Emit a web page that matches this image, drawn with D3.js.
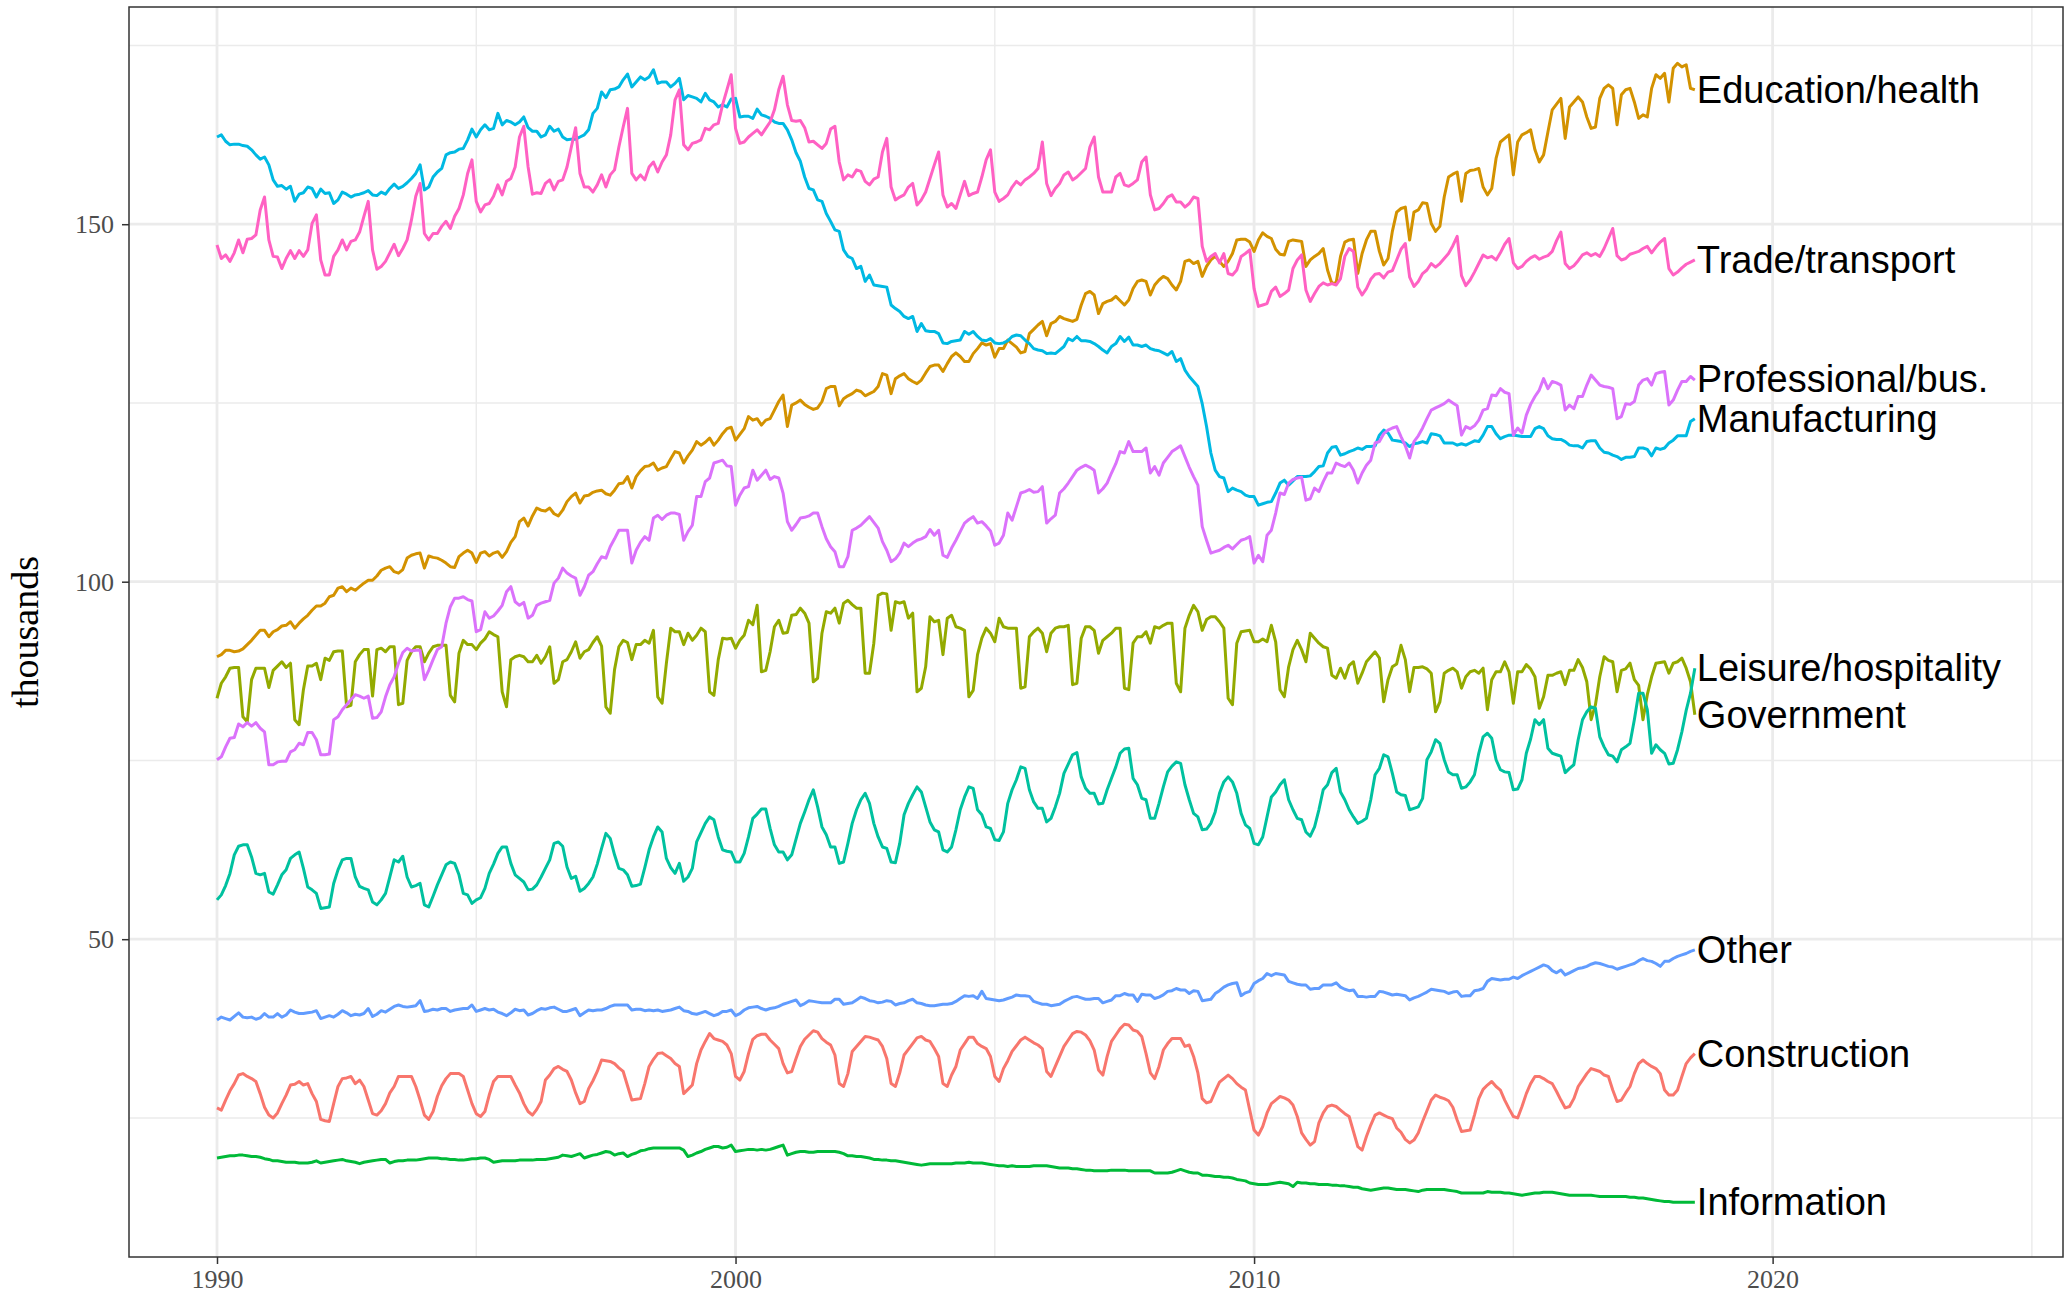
<!DOCTYPE html>
<html>
<head>
<meta charset="utf-8">
<script src="https://cdn.jsdelivr.net/npm/d3@7"></script>
<style>
  body { margin: 0; background: #fff; }
</style>
</head>
<body>
<div id="chart"></div>
<script>
// ---------- data: monthly employment, thousands, Jan 1990 .. Jul 2018 ----------
const startYear = 1990;

const construction = [
  26.4,26.1,27.5,28.8,29.8,31.0,31.2,30.8,30.5,30.1,28.4,26.5,
  25.4,25.0,25.7,27.0,28.2,29.6,29.7,30.1,29.6,29.8,28.4,27.3,
  24.8,24.6,24.5,27.0,29.4,30.5,30.6,30.8,29.8,30.3,29.4,27.5,
  25.6,25.4,26.0,27.0,28.5,29.4,30.8,30.8,30.8,30.8,29.4,27.5,
  25.4,24.8,25.9,28.0,29.5,30.5,31.2,31.2,31.2,30.8,28.9,27.0,
  25.6,25.2,25.9,28.2,30.1,30.8,30.8,30.8,30.8,29.6,28.5,27.0,
  25.9,25.4,26.2,27.3,30.3,31.0,31.9,32.2,31.8,31.5,30.3,28.5,
  27.0,27.3,29.1,30.2,31.5,33.1,33.0,32.9,32.6,32.0,31.5,29.5,
  27.5,27.6,27.7,29.8,32.2,33.2,34.0,34.1,33.7,33.3,32.6,32.2,
  28.4,29.0,29.6,32.6,34.5,35.7,36.8,36.1,35.9,35.7,35.2,34.0,
  30.8,30.3,31.5,34.0,36.0,36.5,36.7,36.7,35.9,35.3,34.7,32.6,
  31.3,31.5,33.3,35.0,36.0,36.6,37.2,37.0,36.1,35.6,35.2,33.8,
  29.8,29.4,31.2,34.3,35.0,35.7,36.4,36.3,36.1,35.9,35.0,33.3,
  29.8,29.4,31.3,33.8,34.6,35.4,36.2,36.4,35.9,35.7,34.7,33.6,
  29.8,29.4,31.0,32.2,34.5,35.4,36.3,36.3,35.4,35.0,34.7,33.6,
  30.8,30.1,31.9,33.0,34.3,35.1,35.9,36.3,35.9,35.5,35.2,34.7,
  31.5,30.8,32.2,33.6,35.0,35.9,36.8,37.1,37.0,36.6,35.8,34.5,
  31.7,31.0,33.6,35.7,36.6,37.5,38.1,38.0,37.3,37.1,36.4,34.0,
  31.3,30.5,32.2,34.5,35.4,36.1,36.1,36.1,35.0,35.2,33.6,31.3,
  27.7,27.1,27.3,28.7,30.0,30.5,31.0,30.5,29.8,29.3,28.9,26.1,
  23.3,22.6,23.8,25.7,27.0,27.5,28.0,27.8,27.5,26.8,25.2,22.9,
  22.0,21.2,21.7,24.3,25.7,26.6,26.8,26.6,26.1,25.6,25.2,23.1,
  21.0,20.5,22.4,24.0,25.4,25.7,25.4,25.1,24.9,23.6,23.0,22.0,
  21.5,21.9,22.9,24.5,26.0,27.5,28.2,27.9,27.7,27.4,26.5,24.7,
  23.1,23.2,23.3,25.4,27.7,29.0,29.6,30.1,29.4,28.9,27.5,26.3,
  25.2,25.0,26.6,28.4,29.8,30.8,30.8,30.5,30.1,29.8,28.7,27.5,
  26.4,26.6,27.7,29.4,30.3,31.2,31.9,31.7,31.5,31.0,30.8,28.9,
  27.3,27.5,28.5,29.4,31.2,32.6,33.1,32.6,32.2,31.9,31.2,28.9,
  28.2,28.2,28.9,30.8,32.6,33.4,34.0
];

const educationHealth = [
  89.5,89.8,90.4,90.4,90.2,90.3,90.6,91.2,91.8,92.5,93.2,93.2,
  92.3,93.0,93.3,93.8,93.9,94.4,93.5,94.2,94.8,95.3,96.0,96.6,
  96.6,97.0,97.9,98.1,99.1,99.3,98.6,99.1,98.8,99.3,99.8,100.2,
  100.2,100.8,101.6,101.9,102.1,101.4,101.2,101.7,103.3,103.7,103.9,104.0,
  101.9,103.6,103.4,103.3,103.0,102.6,102.1,102.0,103.5,104.0,104.4,104.0,
  102.7,104.0,104.2,103.6,104.0,104.2,103.4,104.2,105.5,106.3,108.4,108.9,
  107.8,109.2,110.3,110.0,109.9,110.3,109.5,109.2,110.0,111.2,111.9,112.4,
  111.0,112.0,112.1,112.5,112.7,112.8,112.3,112.1,112.8,113.7,113.8,114.7,
  113.1,114.7,115.5,116.1,116.2,116.6,115.6,115.9,116.1,117.2,118.2,118.0,
  116.6,117.6,118.4,119.6,119.1,119.5,120.1,119.1,119.8,120.7,121.4,121.6,
  119.8,120.6,121.4,123.1,122.6,122.8,121.9,122.6,122.8,124.0,125.2,126.1,
  121.7,124.7,125.0,125.4,124.8,124.4,124.1,124.3,125.2,127.0,127.3,127.3,
  124.6,125.6,126.0,126.3,126.8,126.6,126.0,126.3,126.6,127.3,129.1,128.9,
  126.3,128.4,128.8,129.1,128.4,128.0,127.7,128.2,129.2,130.1,130.3,130.3,
  129.4,130.5,131.5,132.0,131.5,130.8,130.8,131.9,132.6,133.4,133.1,133.3,
  131.4,132.6,132.6,133.8,133.3,132.8,132.0,132.2,134.7,135.3,135.9,136.4,
  134.4,136.1,136.4,137.1,136.8,136.6,136.4,136.7,138.7,140.3,140.6,140.1,
  137.5,138.9,139.2,139.4,139.9,139.3,138.7,139.4,141.0,142.0,142.2,142.0,
  140.1,141.5,142.2,142.7,142.4,141.5,140.8,142.0,144.8,145.0,144.5,144.8,
  142.7,144.1,145.0,145.5,144.8,144.1,144.8,145.9,147.8,147.9,147.9,147.5,
  146.2,147.8,148.8,148.3,148.0,146.5,145.8,145.7,147.6,147.8,147.7,147.6,
  144.1,145.0,145.5,145.9,146.6,143.6,141.7,141.8,145.5,147.5,147.8,147.9,
  143.1,145.9,147.8,149.0,149.0,146.2,144.3,145.2,149.0,151.7,152.2,152.4,
  147.8,151.7,152.0,153.0,152.9,150.1,149.0,149.7,153.8,156.6,157.0,157.3,
  153.2,157.1,157.5,157.6,157.8,155.2,154.1,155.0,159.2,161.5,162.0,162.5,
  156.9,161.5,162.5,162.8,163.2,160.4,158.7,159.7,162.9,166.0,166.8,167.6,
  162.0,166.4,167.1,167.8,167.1,165.0,163.4,163.6,167.6,169.0,169.5,169.0,
  163.9,168.1,168.8,169.0,167.1,164.8,165.3,165.0,169.0,170.9,170.4,171.1,
  167.1,171.8,172.5,172.0,172.3,169.0,168.8
];

const government = [
  83.7,85.8,86.7,87.9,88.0,88.0,81.1,80.4,86.3,87.9,87.9,87.9,
  85.2,87.6,88.2,88.8,88.0,88.6,80.7,80.0,84.9,88.2,88.2,88.6,
  86.3,89.3,89.0,90.2,90.3,90.3,82.5,82.7,88.8,89.8,90.5,90.5,
  84.0,90.5,90.7,90.2,90.9,90.9,82.8,83.0,89.0,90.2,90.9,90.9,
  88.8,90.0,90.9,91.1,91.1,91.1,84.1,83.2,90.0,91.8,91.2,91.2,
  90.5,91.4,92.0,93.0,92.6,92.3,84.6,82.5,89.1,89.5,89.7,89.5,
  88.8,88.8,89.7,88.6,89.5,90.9,85.8,86.3,88.8,89.1,90.2,91.6,
  89.3,90.2,90.5,91.5,92.3,91.0,82.5,81.6,87.7,90.9,91.8,91.5,
  89.1,91.2,91.2,91.8,91.4,93.2,83.9,83.0,88.6,93.5,93.0,93.0,
  91.2,92.8,91.8,92.5,93.5,93.0,84.6,84.1,89.1,92.1,92.0,92.1,
  90.7,91.8,92.5,94.6,94.0,96.7,87.4,87.6,90.2,93.7,94.6,92.8,
  92.9,95.3,95.4,96.3,95.6,94.2,86.0,86.5,92.8,95.8,95.6,96.3,
  94.2,97.0,97.4,96.8,96.3,96.3,87.2,87.2,91.4,98.1,98.4,98.3,
  93.2,97.2,97.0,97.2,94.9,95.6,84.6,85.1,88.1,95.1,94.4,94.6,
  89.8,94.9,95.3,93.7,93.5,93.2,83.9,84.8,89.8,92.1,93.5,92.8,
  91.6,94.9,93.7,93.5,93.5,93.5,85.1,85.3,92.3,93.0,93.5,92.8,
  90.2,92.8,93.5,93.7,93.7,93.9,85.6,85.8,92.1,93.7,93.7,93.2,
  90.0,91.8,92.3,92.8,93.5,93.5,85.1,84.9,91.4,92.3,92.3,93.0,
  91.4,93.7,93.5,93.9,94.2,94.2,85.8,84.6,93.5,95.3,96.7,95.8,
  93.2,94.7,95.1,95.1,94.4,93.5,83.7,82.8,91.4,93.0,93.1,93.2,
  91.6,91.6,92.0,91.6,93.9,91.6,84.9,83.9,88.1,90.5,91.8,90.5,
  88.8,92.8,92.1,91.4,90.9,90.7,86.9,86.5,87.9,86.5,88.3,88.8,
  85.8,87.2,88.8,89.5,90.2,89.3,83.2,86.3,88.1,88.5,91.1,89.1,
  84.6,88.0,88.0,88.1,87.8,87.2,81.8,83.2,87.2,87.6,87.9,87.4,
  85.1,86.7,87.4,87.6,87.2,87.9,82.1,86.3,87.4,87.4,88.8,87.4,
  83.0,87.4,87.4,88.4,87.8,86.7,82.3,83.9,86.9,86.9,87.2,87.4,
  85.6,87.6,87.6,89.1,88.0,86.0,80.7,82.8,86.7,89.5,89.0,88.8,
  84.6,87.6,87.8,88.6,86.3,85.5,80.7,84.2,86.7,88.6,88.7,88.8,
  87.2,88.6,88.8,89.3,87.9,86.0,81.4
];

const information = [
  19.4,19.5,19.6,19.7,19.7,19.8,19.8,19.7,19.6,19.6,19.5,19.3,
  19.2,19.0,19.0,18.9,18.8,18.8,18.8,18.7,18.7,18.7,18.8,19.0,
  18.7,18.8,18.9,19.0,19.1,19.2,19.0,18.9,18.8,18.6,18.8,18.9,
  19.0,19.1,19.2,19.2,18.7,18.9,19.0,19.0,19.1,19.1,19.1,19.2,
  19.3,19.4,19.4,19.4,19.3,19.3,19.2,19.2,19.1,19.1,19.2,19.3,
  19.3,19.4,19.4,19.2,18.8,18.9,19.0,19.0,19.0,19.0,19.1,19.1,
  19.1,19.1,19.2,19.2,19.2,19.3,19.4,19.5,19.8,19.7,19.6,19.8,
  20.0,19.4,19.6,19.8,19.9,20.1,20.3,20.2,19.8,20.0,20.1,19.6,
  19.9,20.1,20.4,20.5,20.7,20.8,20.8,20.8,20.8,20.8,20.8,20.8,
  20.5,19.6,19.8,20.1,20.3,20.6,20.8,21.0,21.0,20.8,20.9,21.2,
  20.3,20.4,20.5,20.6,20.6,20.5,20.6,20.5,20.6,20.8,21.0,21.2,
  19.8,20.0,20.2,20.3,20.3,20.2,20.2,20.3,20.3,20.3,20.3,20.3,
  20.2,20.0,19.7,19.7,19.6,19.6,19.5,19.4,19.2,19.2,19.1,19.1,
  19.0,19.0,18.9,18.8,18.7,18.6,18.5,18.4,18.5,18.6,18.6,18.6,
  18.6,18.6,18.6,18.7,18.7,18.7,18.8,18.7,18.7,18.7,18.6,18.5,
  18.4,18.3,18.3,18.2,18.3,18.2,18.2,18.2,18.2,18.3,18.3,18.3,
  18.3,18.2,18.1,18.0,18.0,18.0,17.9,17.9,17.8,17.7,17.7,17.6,
  17.6,17.6,17.6,17.7,17.7,17.7,17.7,17.6,17.6,17.6,17.6,17.6,
  17.6,17.3,17.3,17.3,17.3,17.4,17.6,17.8,17.6,17.4,17.3,17.3,
  17.0,17.0,16.9,16.8,16.8,16.7,16.7,16.6,16.4,16.3,16.2,15.9,
  15.8,15.7,15.7,15.7,15.8,15.9,16.0,15.9,15.8,15.4,16.0,15.9,
  15.9,15.8,15.8,15.7,15.7,15.7,15.6,15.6,15.5,15.5,15.4,15.3,
  15.3,15.1,15.0,14.9,15.0,15.1,15.2,15.2,15.1,15.0,15.0,15.0,
  14.9,14.8,14.7,14.9,15.0,15.0,15.0,15.0,15.0,14.9,14.8,14.7,
  14.5,14.5,14.5,14.5,14.5,14.5,14.7,14.6,14.6,14.6,14.5,14.5,
  14.4,14.3,14.2,14.3,14.4,14.5,14.5,14.6,14.6,14.6,14.5,14.4,
  14.3,14.2,14.2,14.2,14.2,14.2,14.2,14.1,14.0,14.0,14.0,14.0,
  14.0,14.0,14.0,13.9,13.9,13.8,13.8,13.7,13.6,13.5,13.4,13.3,
  13.3,13.2,13.2,13.2,13.2,13.2,13.2
];

const leisureHospitality = [
  55.5,56.2,57.5,59.2,61.8,63.0,63.2,63.2,61.5,59.2,59.0,59.2,
  56.6,56.3,57.6,59.0,59.7,61.3,61.8,62.2,59.9,57.3,56.9,56.4,
  54.3,54.4,54.5,57.8,59.7,61.1,61.3,61.3,58.7,57.4,57.1,56.9,
  55.2,54.8,55.5,56.4,58.7,61.1,60.8,61.6,58.7,57.3,57.5,57.8,
  54.8,54.5,56.0,57.6,59.0,60.4,60.8,60.6,59.0,56.4,56.2,55.0,
  55.5,55.8,57.1,59.2,60.5,62.0,62.9,62.9,60.6,59.0,58.5,58.0,
  56.9,57.0,57.6,58.7,59.9,61.1,63.4,63.6,63.0,60.1,58.5,58.8,
  56.7,57.1,57.8,58.7,60.5,62.7,64.8,64.1,61.8,59.9,59.7,59.0,
  57.4,57.5,57.7,60.0,62.5,64.3,65.7,65.0,61.3,60.0,59.2,60.6,
  58.1,58.7,59.9,63.6,64.9,66.2,67.1,66.7,64.3,62.5,62.3,62.2,
  60.8,60.8,62.0,64.3,66.9,67.5,68.2,68.2,65.5,63.2,62.2,62.2,
  61.1,61.8,64.0,66.2,67.8,69.5,70.9,68.5,65.7,64.6,62.9,62.9,
  60.6,60.8,63.4,66.2,68.1,69.5,70.4,69.0,66.2,64.3,62.9,62.7,
  60.8,60.7,63.4,67.4,69.0,70.2,71.3,70.6,68.5,66.4,65.3,65.0,
  62.5,62.2,62.9,65.3,68.1,69.9,71.3,71.1,68.1,67.4,65.7,65.5,
  63.9,63.8,65.0,69.0,70.9,72.3,74.1,73.9,70.9,69.2,68.3,68.3,
  66.4,66.9,68.5,70.4,73.2,74.5,75.8,76.1,72.7,71.1,70.4,70.4,
  68.9,69.0,70.9,72.5,74.1,76.0,76.6,76.7,72.5,71.6,69.7,69.5,
  66.9,66.9,69.0,71.3,73.4,74.2,74.8,74.6,71.6,69.5,67.6,67.1,
  65.3,65.4,66.2,67.8,70.4,72.0,72.7,72.0,70.4,67.6,66.0,65.5,
  63.4,63.2,64.3,67.1,69.9,70.6,71.6,72.3,69.5,68.1,66.9,66.7,
  65.0,64.4,65.7,68.1,70.9,71.6,73.3,73.9,70.6,69.5,68.1,67.1,
  66.2,66.5,66.9,69.5,73.0,73.9,75.8,75.5,73.2,70.6,70.2,70.1,
  68.1,68.3,68.5,69.7,75.1,76.2,77.9,77.4,75.1,73.4,73.0,73.0,
  71.1,71.3,72.0,73.0,76.0,78.3,78.8,78.1,75.1,73.7,73.4,73.3,
  70.9,71.0,72.3,76.0,78.0,80.7,80.0,80.7,76.7,76.0,75.8,75.6,
  73.3,73.9,74.4,77.9,80.7,81.8,82.5,82.3,78.3,76.9,75.8,75.6,
  74.8,76.5,76.9,77.4,80.7,84.4,84.4,82.1,76.0,77.2,76.5,76.0,
  74.5,74.6,76.5,79.0,82.0,84.4,87.9
];

const manufacturing = [
  162.2,162.5,161.6,161.1,161.2,161.2,161.0,160.9,160.4,159.7,159.1,159.4,
  158.3,156.2,155.3,155.4,154.9,155.3,153.2,154.2,154.4,155.2,155.0,153.8,
  154.9,154.3,154.4,152.9,153.4,154.5,154.2,153.8,154.1,154.2,154.4,154.7,
  154.1,154.0,154.5,154.2,155.0,155.6,155.0,155.3,155.8,156.4,157.1,158.3,
  154.8,155.2,156.6,157.3,157.8,159.7,160.0,160.1,160.5,160.6,161.8,163.3,
  162.2,163.2,163.9,163.2,163.4,165.5,163.9,164.5,164.3,163.9,164.3,165.0,
  163.5,163.0,163.0,162.2,162.5,163.7,163.0,163.3,162.2,161.8,161.9,161.9,
  162.2,162.5,163.2,165.5,166.2,168.5,167.7,168.8,168.9,169.2,170.2,171.0,
  169.2,169.9,170.6,170.2,170.6,171.6,169.7,169.9,169.9,169.2,169.7,170.4,
  167.4,168.0,167.8,167.6,167.1,168.3,167.4,167.1,166.4,166.7,166.4,167.5,
  167.6,165.0,165.1,165.1,164.8,166.1,165.3,165.1,164.8,164.3,164.1,164.1,
  163.2,161.8,160.0,158.8,156.6,155.0,154.8,153.4,153.2,151.5,150.4,149.2,
  149.0,146.4,145.5,145.2,143.8,144.1,142.0,142.9,141.5,141.4,141.3,141.2,
  138.7,138.2,137.8,137.1,136.8,137.1,135.0,136.1,135.1,135.0,135.0,134.7,
  133.4,133.3,133.6,133.7,133.8,135.0,134.6,135.0,134.3,133.8,133.7,134.0,
  133.4,133.3,133.4,133.7,134.3,134.5,134.4,133.8,133.3,132.6,132.4,132.3,
  131.9,132.0,131.9,132.4,132.9,134.0,133.7,134.3,133.7,133.7,133.6,133.3,
  132.9,132.4,132.0,132.9,133.3,134.3,133.6,134.2,133.1,133.1,132.9,133.1,
  132.6,132.4,132.3,132.0,131.7,132.2,130.8,131.2,129.6,128.7,128.0,127.3,
  124.9,121.7,118.0,115.6,114.7,114.5,112.6,113.1,112.8,112.6,112.1,111.9,
  111.9,110.7,110.9,111.1,111.2,112.4,113.8,114.2,113.5,114.1,114.7,114.7,
  114.7,114.8,115.4,116.1,116.2,118.0,118.8,118.9,117.7,117.9,118.2,118.4,
  118.7,118.5,118.9,118.9,119.0,120.5,121.2,120.8,119.8,119.7,119.6,119.4,
  118.9,119.3,119.4,119.6,119.4,120.7,120.6,120.4,119.4,119.4,119.4,119.1,
  119.3,119.1,119.4,119.7,119.6,120.5,121.7,121.7,120.7,120.0,120.3,120.5,
  120.5,120.4,120.3,120.3,120.3,121.4,121.7,121.4,120.4,120.0,119.9,119.9,
  119.6,119.1,119.0,119.0,118.7,119.6,119.7,119.7,118.7,118.1,118.0,117.7,
  117.5,117.1,117.4,117.4,117.5,118.7,118.7,118.5,117.6,118.7,118.5,118.7,
  119.4,119.8,120.4,120.4,120.4,122.4,122.8
];

const other = [
  38.7,39.1,38.9,38.7,39.2,39.7,39.1,39.0,39.1,38.8,39.0,39.6,
  39.1,39.1,39.6,39.1,39.4,40.1,39.8,39.6,39.6,39.7,39.8,40.0,
  38.9,39.1,39.3,39.1,39.5,40.0,39.7,39.3,39.5,39.4,39.6,40.3,
  39.2,39.5,40.0,39.8,40.2,40.6,40.8,40.6,40.5,40.6,40.7,41.4,
  39.9,40.0,40.2,40.1,40.3,40.3,39.9,40.1,40.2,40.3,40.3,40.8,
  39.9,40.1,40.3,40.1,40.2,39.8,39.6,39.3,39.7,40.2,40.0,40.1,
  39.4,39.6,40.0,40.3,40.2,40.4,40.5,40.2,39.9,39.9,40.1,40.3,
  39.3,39.7,40.1,40.0,40.1,40.1,40.3,40.6,40.8,40.8,40.8,40.8,
  40.1,40.2,40.2,40.0,40.1,40.0,40.1,39.9,40.0,40.1,40.3,40.5,
  40.0,39.9,39.6,39.5,39.7,39.9,39.6,39.3,39.5,39.9,39.9,40.1,
  39.3,39.6,40.1,40.4,40.5,40.6,40.3,40.1,40.3,40.4,40.6,40.9,
  41.1,41.3,41.5,40.7,41.0,41.4,41.3,41.2,41.1,41.1,41.1,41.6,
  41.6,40.9,41.0,41.1,41.5,41.9,41.7,41.4,41.3,41.1,41.2,41.4,
  41.3,40.8,41.0,41.1,41.4,41.6,41.1,41.0,40.8,40.7,40.7,40.8,
  40.9,40.9,41.0,41.3,41.7,42.1,42.0,42.1,41.7,42.7,41.7,41.6,
  41.5,41.4,41.5,41.7,41.9,42.2,42.1,42.1,42.0,41.3,41.1,40.9,
  40.9,40.7,40.8,40.9,41.3,41.6,41.9,42.0,41.8,41.6,41.6,41.7,
  41.7,41.1,41.3,41.5,42.1,42.1,42.4,42.2,42.2,41.3,42.3,42.2,
  42.2,41.7,41.9,42.2,42.7,42.8,43.1,42.9,42.9,42.4,42.8,42.7,
  41.4,41.5,41.6,42.4,42.8,43.3,43.6,43.8,43.9,42.1,42.5,42.7,
  43.8,44.2,44.5,45.2,44.9,45.2,45.1,45.0,44.1,43.9,43.7,43.6,
  43.6,43.0,43.1,43.1,43.6,43.6,43.6,43.9,43.3,43.0,42.8,42.9,
  42.0,42.0,41.9,42.0,42.0,42.7,42.6,42.4,42.2,42.3,42.2,42.1,
  41.5,41.8,42.0,42.3,42.6,43.0,42.9,42.8,42.7,42.4,42.6,42.7,
  42.0,42.1,42.1,42.8,42.9,43.1,44.1,44.5,44.4,44.3,44.4,44.4,
  44.7,44.5,44.9,45.2,45.5,45.8,46.1,46.4,46.2,45.6,45.3,45.7,
  45.0,45.3,45.6,45.9,46.0,46.2,46.5,46.7,46.6,46.4,46.2,46.1,
  45.8,46.0,46.2,46.4,46.6,47.0,47.3,47.0,46.9,46.6,46.2,46.9,
  46.9,47.3,47.6,47.8,48.0,48.3,48.5
];

const professionalBus = [
  75.1,75.5,76.9,78.1,78.2,80.1,79.7,80.3,79.8,80.3,79.5,79.0,
  74.4,74.4,74.8,74.9,74.9,76.2,76.5,77.4,77.2,78.9,78.9,77.9,
  75.8,75.8,75.9,80.7,81.1,82.1,82.8,83.5,84.2,84.0,83.7,84.0,
  80.9,81.0,81.8,83.9,85.6,86.7,88.6,90.1,90.7,90.3,90.4,90.4,
  86.3,87.6,89.1,90.5,90.9,94.2,96.5,97.7,97.7,97.9,97.5,97.3,
  93.0,93.3,95.8,94.9,95.2,95.9,96.7,98.6,99.3,97.2,96.7,97.1,
  94.9,95.3,96.7,97.0,97.2,97.4,99.8,100.5,101.9,101.2,100.8,100.5,
  98.1,99.3,100.9,101.4,102.5,103.5,103.3,104.9,106.0,107.2,107.2,107.2,
  102.6,104.4,105.5,106.3,105.8,108.9,109.3,108.7,109.3,109.6,109.6,109.4,
  105.8,107.0,107.9,111.9,111.9,114.0,114.5,116.6,116.8,117.0,116.2,116.1,
  110.7,112.1,113.1,113.3,115.6,114.2,114.9,115.6,114.3,114.7,114.5,112.4,
  108.4,107.2,108.0,108.9,109.0,109.2,109.6,109.6,107.7,106.0,104.9,104.2,
  102.1,102.1,103.5,107.2,107.5,107.9,108.5,109.1,108.3,107.5,105.6,104.4,
  102.8,103.2,104.0,105.4,104.9,105.4,105.8,106.0,106.3,107.3,106.5,107.2,
  103.7,103.4,104.7,105.8,107.0,108.2,108.7,109.1,108.2,108.4,107.8,107.1,
  105.1,105.4,106.5,109.6,108.6,110.5,112.4,112.6,112.9,112.5,112.6,113.3,
  108.2,108.8,109.3,112.4,113.0,113.8,114.7,115.6,116.0,116.3,116.0,115.6,
  112.4,113.0,113.8,115.2,116.5,118.2,118.0,119.6,118.2,118.2,118.2,118.7,
  115.2,116.1,114.9,116.6,117.4,118.2,118.6,119.0,117.5,116.0,114.7,113.5,
  107.7,105.8,104.0,104.2,104.4,104.8,105.1,104.6,105.2,105.8,106.0,106.3,
  102.6,103.7,102.8,106.5,107.2,109.6,112.4,112.2,113.8,114.3,114.5,114.6,
  111.4,111.6,113.1,112.6,114.0,115.2,115.2,116.6,116.3,116.1,116.6,115.6,
  113.8,115.2,116.3,117.0,119.4,119.6,120.7,121.2,121.5,121.7,120.3,119.0,
  117.3,119.6,120.4,121.5,122.8,124.0,124.3,124.6,124.9,125.4,125.0,124.6,
  120.5,121.7,121.4,121.8,122.6,124.0,124.2,126.1,126.0,127.0,126.5,126.3,
  120.5,121.5,120.8,123.3,124.8,125.9,126.8,128.4,127.0,128.0,127.8,127.5,
  124.0,124.7,124.2,125.9,125.9,127.5,128.9,128.2,127.5,127.3,127.2,127.0,
  122.8,123.1,124.9,124.8,125.2,127.5,128.2,128.4,127.5,129.1,129.3,129.4,
  124.7,125.4,126.8,128.0,128.0,128.7,128.2
];

const tradeTransport = [
  147.1,145.2,145.7,144.8,146.0,147.8,146.0,147.9,148.0,148.5,152.0,153.8,
  147.8,145.5,145.4,143.8,145.2,146.3,145.2,146.3,145.5,146.4,150.1,151.3,
  145.0,142.9,142.9,145.5,146.4,147.8,146.4,147.6,147.8,148.9,151.1,153.2,
  146.4,143.7,144.1,144.8,146.0,147.2,145.6,146.6,147.8,150.6,153.9,155.7,
  148.7,147.8,148.7,148.7,149.7,150.4,149.4,151.1,152.2,154.1,157.1,159.0,
  153.2,151.7,152.7,152.9,153.9,155.5,154.1,156.0,156.4,158.0,162.2,163.7,
  158.0,154.2,154.4,154.3,155.7,156.2,154.8,156.0,156.2,158.0,160.8,163.5,
  157.1,155.2,155.2,154.5,155.5,156.9,155.2,156.9,157.6,160.8,163.6,166.2,
  157.1,156.2,156.9,156.2,158.0,158.7,157.3,158.7,159.7,162.5,167.4,168.8,
  161.1,160.4,161.3,161.5,161.8,163.4,163.2,163.9,164.1,166.7,168.8,170.9,
  163.4,161.3,161.5,162.2,162.7,163.2,162.5,163.4,164.3,166.0,168.8,170.7,
  166.7,164.5,164.4,164.5,163.5,161.5,161.6,161.1,160.6,161.3,163.3,163.7,
  158.7,156.2,156.9,156.6,157.6,157.4,156.0,155.5,156.3,156.6,160.1,162.0,
  155.2,153.4,153.8,154.1,155.2,155.7,152.7,153.4,154.5,156.4,158.3,160.1,
  154.1,152.4,152.9,152.2,154.1,156.0,154.0,154.3,154.5,156.6,159.0,160.4,
  154.5,153.2,153.6,154.1,155.2,156.0,155.5,156.2,156.6,157.1,157.8,161.5,
  155.7,154.0,155.0,155.7,156.9,157.3,156.2,156.6,157.2,157.8,160.8,162.2,
  156.6,154.5,154.5,154.5,156.6,157.1,155.5,155.3,155.7,156.2,158.7,159.4,
  154.1,152.0,152.2,152.9,153.8,154.1,153.1,153.1,152.4,152.9,153.8,153.6,
  146.9,144.8,145.5,145.9,144.6,145.9,143.1,142.9,143.6,145.5,145.9,146.4,
  141.0,138.5,138.7,138.9,140.6,141.2,139.9,140.3,140.8,143.8,145.0,145.7,
  140.8,139.2,140.3,141.3,141.8,141.5,141.7,141.5,142.4,145.5,146.6,146.2,
  141.2,140.1,141.0,142.3,143.0,143.1,142.5,143.3,143.5,145.0,146.5,147.3,
  142.6,141.3,142.0,143.1,143.6,144.5,144.0,144.5,145.2,145.9,147.0,148.3,
  142.8,141.4,142.2,143.3,144.5,145.7,145.3,145.5,145.0,146.0,147.2,148.0,
  144.6,143.8,144.1,144.8,145.3,145.6,145.1,145.4,145.6,146.2,147.7,148.9,
  144.5,143.8,144.2,144.9,145.7,146.0,145.6,145.9,145.5,146.6,148.0,149.4,
  145.6,145.0,145.2,145.8,146.0,146.2,146.6,146.9,146.0,146.8,147.5,148.0,
  143.8,142.9,143.3,143.9,144.4,144.7,145.0
];

const seriesNames = ["Construction", "Education/health", "Government", "Information",
  "Leisure/hospitality", "Manufacturing", "Other", "Professional/bus.", "Trade/transport"];
const seriesValues = [construction, educationHealth, government, information,
  leisureHospitality, manufacturing, other, professionalBus, tradeTransport];
const seriesColors = ["#F8766D", "#D39200", "#93AA00", "#00BA38",
  "#00C19F", "#00B9E3", "#619CFF", "#DB72FB", "#FF61C3"];

const xMajor = [1990, 2000, 2010, 2020];
const xMinor = [1995, 2005, 2015, 2025];
const yMajor = [50, 100, 150];
const yMinor = [25, 75, 125, 175];

// --------------------------- layout ---------------------------
const width = 2064;
const height = 1307;
const panel = { left: 129, right: 2063, top: 7, bottom: 1257 };

const x = d3.scaleLinear().domain([1988.303, 2025.6]).range([panel.left, panel.right]);
const y = d3.scaleLinear().domain([5.55, 180.38]).range([panel.bottom, panel.top]);

const svg = d3.select("#chart")
  .append("svg")
  .attr("width", width)
  .attr("height", height)
  .attr("viewBox", `0 0 ${width} ${height}`);

svg.append("rect").attr("width", width).attr("height", height).attr("fill", "#fff");

const clip = svg.append("defs").append("clipPath").attr("id", "panel-clip");
clip.append("rect")
  .attr("x", panel.left).attr("y", panel.top)
  .attr("width", panel.right - panel.left).attr("height", panel.bottom - panel.top);

// --------------------------- grid ---------------------------
const grid = svg.append("g").attr("clip-path", "url(#panel-clip)");

grid.selectAll("line.xminor").data(xMinor).join("line")
  .attr("class", "xminor")
  .attr("x1", d => x(d)).attr("x2", d => x(d))
  .attr("y1", panel.top).attr("y2", panel.bottom)
  .attr("stroke", "#EBEBEB").attr("stroke-width", 1.4);

grid.selectAll("line.yminor").data(yMinor).join("line")
  .attr("class", "yminor")
  .attr("x1", panel.left).attr("x2", panel.right)
  .attr("y1", d => y(d)).attr("y2", d => y(d))
  .attr("stroke", "#EBEBEB").attr("stroke-width", 1.4);

grid.selectAll("line.xmajor").data(xMajor).join("line")
  .attr("class", "xmajor")
  .attr("x1", d => x(d)).attr("x2", d => x(d))
  .attr("y1", panel.top).attr("y2", panel.bottom)
  .attr("stroke", "#EBEBEB").attr("stroke-width", 2.8);

grid.selectAll("line.ymajor").data(yMajor).join("line")
  .attr("class", "ymajor")
  .attr("x1", panel.left).attr("x2", panel.right)
  .attr("y1", d => y(d)).attr("y2", d => y(d))
  .attr("stroke", "#EBEBEB").attr("stroke-width", 2.8);

// --------------------------- lines ---------------------------
const line = d3.line()
  .x((d, i) => x(startYear + i / 12))
  .y(d => y(d));

const lines = svg.append("g").attr("clip-path", "url(#panel-clip)");

lines.selectAll("path")
  .data(seriesValues)
  .join("path")
  .attr("d", d => line(d))
  .attr("fill", "none")
  .attr("stroke", (d, i) => seriesColors[i])
  .attr("stroke-width", 3)
  .attr("stroke-linejoin", "round");

// end labels, with a small push apart where two ends sit close together
const labelPos = seriesValues.map((d, i) => ({ i, y: y(d[d.length - 1]), x: x(startYear + (d.length - 1) / 12) + 2 }));
const sorted = labelPos.slice().sort((a, b) => a.y - b.y);
for (let k = 1; k < sorted.length; k++) {
  const gap = sorted[k].y - sorted[k - 1].y;
  if (gap < 40) {
    const push = (40 - gap) / 2;
    sorted[k - 1].y -= push;
    sorted[k].y += push;
  }
}

svg.append("g")
  .selectAll("text")
  .data(labelPos)
  .join("text")
  .attr("x", d => d.x)
  .attr("y", d => d.y)
  .attr("dominant-baseline", "central")
  .attr("font-family", "'Liberation Sans', Arial, sans-serif")
  .attr("font-size", 38)
  .attr("fill", "#000")
  .text(d => seriesNames[d.i]);

// --------------------------- axes ---------------------------
const xAxis = d3.axisBottom(x).tickValues(xMajor).tickFormat(d3.format("d")).tickSize(7).tickPadding(6);
const yAxis = d3.axisLeft(y).tickValues(yMajor).tickSize(7).tickPadding(8);

const gx = svg.append("g")
  .attr("transform", `translate(0,${panel.bottom})`)
  .call(xAxis);
const gy = svg.append("g")
  .attr("transform", `translate(${panel.left},0)`)
  .call(yAxis);

[gx, gy].forEach(g => {
  g.select(".domain").remove();
  g.selectAll(".tick line").attr("stroke", "#333333").attr("stroke-width", 1.5);
  g.selectAll(".tick text")
    .attr("font-family", "'Liberation Serif', 'Times New Roman', serif")
    .attr("font-size", 26)
    .attr("fill", "#4D4D4D");
});

svg.append("text")
  .attr("transform", `translate(38,${(panel.top + panel.bottom) / 2}) rotate(-90)`)
  .attr("text-anchor", "middle")
  .attr("font-family", "'Liberation Serif', 'Times New Roman', serif")
  .attr("font-size", 38)
  .attr("fill", "#000")
  .text("thousands");

// panel border
svg.append("rect")
  .attr("x", panel.left).attr("y", panel.top)
  .attr("width", panel.right - panel.left).attr("height", panel.bottom - panel.top)
  .attr("fill", "none")
  .attr("stroke", "#333333")
  .attr("stroke-width", 1.5);
</script>
</body>
</html>
